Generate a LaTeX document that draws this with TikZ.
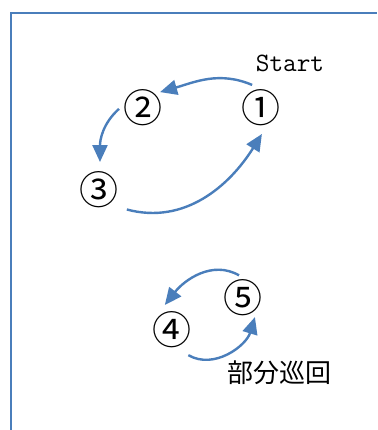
\documentclass[tikz,border=0pt]{standalone}
\usepackage{fontspec}
\newfontfamily\cjk{Noto Sans CJK JP}
\usetikzlibrary{arrows.meta}
\definecolor{lineblue}{RGB}{74,126,187}
\begin{document}
\begin{tikzpicture}[x=1pt,y=1pt,
  num/.style={inner sep=0pt,font=\cjk\fontsize{39}{39}\selectfont},
  loop/.style={draw=lineblue,line width=2.4pt,-{Triangle[length=17pt,width=15pt]}},
  frameline/.style={draw=lineblue,line width=1.5pt}]
\useasboundingbox (0,0) rectangle (377,430);
\coordinate (fb) at (11,0);
\coordinate (fc) at (11,417);
\coordinate (fr) at (377,417);
\draw[frameline] (fb) -- (fc) -- (fr);
\node[num] (n1) at (261,322) {①};
\node[num] (n2) at (143,322) {②};
\node[num] (n3) at (99,240) {③};
\node[num] (n4) at (172,100) {④};
\node[num] (n5) at (243,132) {⑤};
\node[anchor=base,inner sep=0pt,font=\ttfamily\fontsize{26.5}{26.5}\selectfont] (st) at (290,358) {Start};
\node[inner sep=0pt,font=\cjk\fontsize{26}{26}\selectfont] (pj) at (279,57) {部分巡回};
\draw[loop] ([shift={(111:24.7)}]n1.center) to[out=157,in=16] ([shift={(43:23.3)}]n2.center);
\draw[loop] ([shift={(182:24)}]n2.center) to[out=222,in=90] ([shift={(88:28)}]n3.center);
\draw[loop] ([shift={(-35:34)}]n3.center) to[out=-15,in=238] ([shift={(-88:26)}]n1.center);
\draw[loop] ([shift={(100:23)}]n5.center) to[out=150,in=52] ([shift={(106:26)}]n4.center);
\draw[loop] ([shift={(-57:30)}]n4.center) to[out=-30,in=253] ([shift={(-58:22.5)}]n5.center);
\end{tikzpicture}
\end{document}
